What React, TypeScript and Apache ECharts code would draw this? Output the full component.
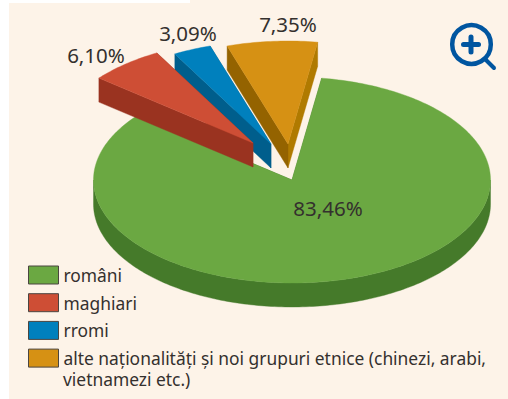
import React, { useEffect, useRef } from "react";
import * as echarts from "echarts";

const categories = ["români", "maghiari", "rromi", "alte naționalități și noi grupuri etnice (chinezi, arabi,\nvietnamezi etc.)"];
const values = [83.46, 6.1, 3.09, 7.35];
const valueLabels = ["83,46%", "6,10%", "3,09%", "7,35%"];
const topColors = ["#6BA842", "#CE4E35", "#0080BD", "#D69114"];
const sideColors = ["#457A2A", "#9A3320", "#005E8C", "#946300"];
const farSideColors = ["#457A2A", "#9A3320", "#005E8C", "#B07A00"];
const explodeX = [0, -39, -21, -4];
const explodeY = [0, -37, -36, -36];
const labelX = [328, 96, 188, 288];
const labelY = [208, 55, 33, 24];
const drawOrder = [1, 4, 2, 3];

const CX = 292, CY = 180, RX = 198.5, RY = 103, DEPTH = 24, START = 8.6;
const FONT = '"Noto Sans", sans-serif';
const TEXT = "#34302E";

const total = values.reduce((a, b) => a + b, 0);

function sliceAngles(i: number): [number, number] {
  let a = START;
  for (let k = 0; k < i; k++) a += (values[k] / total) * 360;
  return [a, a + (values[i] / total) * 360];
}

function renderSlice(i: number) {
  return () => {
    const [a0, a1] = sliceAngles(i);
    const ox = CX + explodeX[i];
    const oy = CY + explodeY[i];
    const pt = (deg: number, d = 0): number[] => {
      const r = (deg * Math.PI) / 180;
      return [ox + RX * Math.sin(r), oy - RY * Math.cos(r) + d];
    };
    const arc = (from: number, to: number, d = 0) => {
      const out: number[][] = [];
      const n = Math.max(2, Math.ceil(Math.abs(to - from)));
      for (let k = 0; k <= n; k++) out.push(pt(from + ((to - from) * k) / n, d));
      return out;
    };
    const children: any[] = [];
    const poly = (points: number[][], fill: string) =>
      children.push({ type: "polygon", shape: { points }, style: { fill, stroke: fill, lineWidth: 0.4 }, silent: true });

    poly([[ox, oy], pt(a1), pt(a1, DEPTH), [ox, oy + DEPTH]], farSideColors[i]);
    poly([[ox, oy], pt(a0), pt(a0, DEPTH), [ox, oy + DEPTH]], sideColors[i]);
    const w0 = Math.max(a0, 90);
    const w1 = Math.min(a1, 270);
    if (w1 > w0) poly([...arc(w0, w1), ...arc(w1, w0, DEPTH)], sideColors[i]);
    poly([[ox, oy], ...arc(a0, a1)], topColors[i]);
    children.push({
      type: "text",
      silent: true,
      style: {
        text: valueLabels[i],
        x: labelX[i],
        y: labelY[i],
        fill: TEXT,
        font: `20.5px ${FONT}`,
        textAlign: "center",
        textVerticalAlign: "middle",
      },
    });
    return { type: "group", children };
  };
}

function decorations() {
  const c = "#0055A0";
  return [
    { type: "rect", silent: true, z: -10, shape: { x: 9, y: 3, width: 499, height: 396 }, style: { fill: "#FDF3E8" } },
    { type: "rect", silent: true, z: -10, shape: { x: 190, y: 0, width: 318, height: 3 }, style: { fill: "#FDF3E8" } },
    { type: "circle", silent: true, shape: { cx: 471.5, cy: 44.5, r: 19.3 }, style: { fill: "none", stroke: c, lineWidth: 4.5 } },
    { type: "line", silent: true, shape: { x1: 486, y1: 60, x2: 494, y2: 68 }, style: { stroke: c, lineWidth: 4, lineCap: "round" } },
    { type: "line", silent: true, shape: { x1: 463.5, y1: 44.5, x2: 478.5, y2: 44.5 }, style: { stroke: c, lineWidth: 5, lineCap: "round" } },
    { type: "line", silent: true, shape: { x1: 471, y1: 37, x2: 471, y2: 52 }, style: { stroke: c, lineWidth: 5, lineCap: "round" } },
    {
      type: "text",
      silent: true,
      style: {
        text: categories[3].split("\n")[1],
        x: 63,
        y: 378.5,
        fill: TEXT,
        font: `17.4px ${FONT}`,
        lineHeight: 18,
        textAlign: "left",
        textVerticalAlign: "middle",
      },
    },
  ];
}

export default function App() {
  const ref = useRef<HTMLDivElement>(null);
  useEffect(() => {
    document.body.style.margin = "0";
    const chart = echarts.init(ref.current!, undefined, { renderer: "svg" });
    chart.setOption({
      animation: false,
      backgroundColor: "#FFFFFF",
      graphic: { elements: decorations() },
      legend: {
        orient: "vertical",
        left: 28,
        top: 265.5,
        width: 478,
        height: 130,
        padding: 0,
        itemWidth: 30,
        itemHeight: 18,
        itemGap: 8.7,
        selectedMode: false,
        formatter: (name: string) => name.split("\n")[0],
        textStyle: { color: TEXT, fontFamily: FONT, fontSize: 17.4, lineHeight: 18 },
        data: categories.map((name, i) => ({
          name,
          icon: "rect",
          itemStyle: { color: topColors[i], borderColor: "#4A4540", borderWidth: 1 },
        })),
      },
      series: categories.map((name, i) => ({
        type: "custom",
        name,
        coordinateSystem: "none",
        z: drawOrder[i],
        silent: true,
        itemStyle: { color: topColors[i] },
        data: [values[i]],
        renderItem: renderSlice(i),
      })),
    });
    return () => chart.dispose();
  }, []);
  return <div ref={ref} style={{ position: "absolute", left: 0, top: 0, width: 508, height: 399 }} />;
}
